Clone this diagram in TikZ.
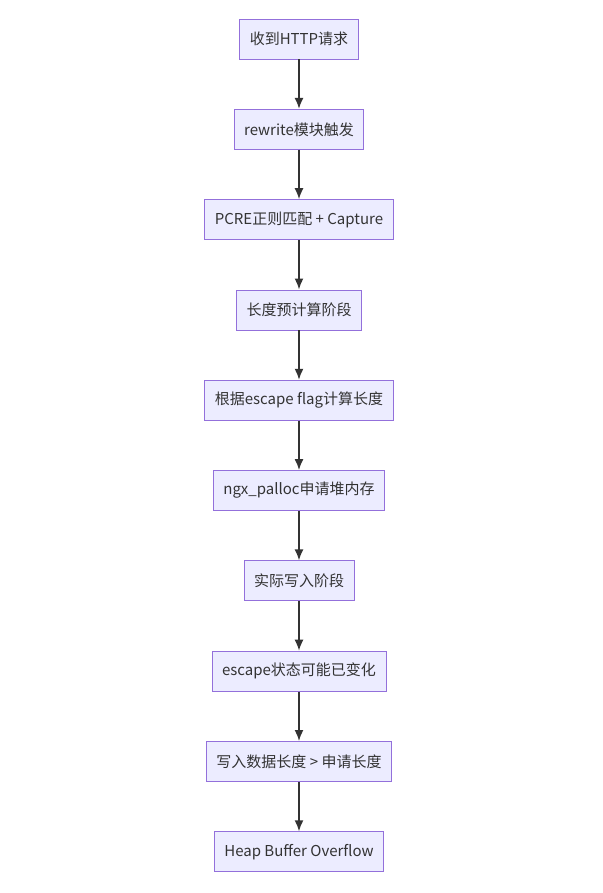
\documentclass[tikz,border=0pt]{standalone}
\usepackage{fontspec}
\setmainfont{Noto Sans CJK SC}
\usetikzlibrary{arrows.meta, positioning}
\definecolor{boxfill}{HTML}{ECECFF}
\definecolor{boxline}{HTML}{9370DB}
\definecolor{linkgray}{HTML}{333333}

\begin{document}
\begin{tikzpicture}[x=1pt, y=1pt,
    stage/.style={draw=boxline, fill=boxfill, line width=0.8pt, minimum height=40pt,
        inner xsep=10pt, font=\fontsize{15}{18}\selectfont, text=linkgray},
    link/.style={-{Latex[length=11pt, width=9pt]}, line width=1.6pt, linkgray},
    node distance=49.5pt]
    \useasboundingbox (0,0) rectangle (602,-893);
    \draw[gray, line width=1pt] (0,0) -- (602,0);

    % stages
    \node[stage] (recv) at (299,-39) {收到HTTP请求};
    \node[stage, below=of recv] (rewrite) {rewrite模块触发};
    \node[stage, below=of rewrite] (pcre) {PCRE正则匹配 + Capture};
    \node[stage, below=of pcre] (precalc) {长度预计算阶段};
    \node[stage, below=of precalc] (flag) {根据escape flag计算长度};
    \node[stage, below=of flag] (palloc) {ngx\_palloc申请堆内存};
    \node[stage, below=of palloc] (write) {实际写入阶段};
    \node[stage, below=of write] (escape) {escape状态可能已变化};
    \node[stage, below=of escape] (exceed) {写入数据长度 > 申请长度};
    \node[stage, below=of exceed] (overflow) {Heap Buffer Overflow};

    % links
    \foreach \a/\b in {recv/rewrite, rewrite/pcre, pcre/precalc, precalc/flag,
        flag/palloc, palloc/write, write/escape, escape/exceed, exceed/overflow}
        \draw[link] (\a) -- (\b);
\end{tikzpicture}
\end{document}
